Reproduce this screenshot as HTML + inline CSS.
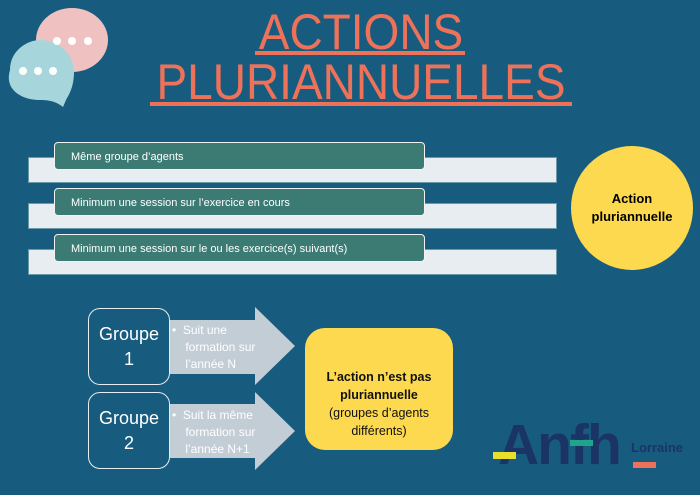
<!DOCTYPE html>
<html><head><meta charset="utf-8"><style>
body{margin:0;width:700px;height:495px;background:#175c7e;position:relative;overflow:hidden;font-family:"Liberation Sans",sans-serif}
.a{position:absolute}
.t{color:#ee7259;font-size:50px;line-height:1;text-align:center;left:0;width:722px;transform:scaleX(0.92);transform-origin:361px 0;font-weight:normal}
.ul{background:#ee7259;height:4px}
.lb{background:#e8edf1;border:1px solid #6a9aa8;left:28px;width:527px;height:24px}
.gb{background:#3c7b74;border:1.5px solid #f2f2f2;border-radius:4px;left:54px;height:28px;color:#fff;font-size:11px;line-height:28px;padding-left:16px;box-sizing:border-box;width:371px}
.grp{border:1.5px solid #e8edf1;border-radius:12px;left:88px;width:82px;height:77px;box-sizing:border-box;color:#fff;font-size:18px;text-align:center;line-height:25px;padding-top:13px}
.bl{color:#fff;font-size:12px;line-height:17px;left:172px;width:95px}
</style></head><body>
<svg class="a" style="left:0;top:0" width="120" height="115">
<ellipse cx="72" cy="40" rx="36" ry="32" fill="#f0c1c1"/>
<path d="M10 70 C10 50 28 40 40 40 C60 40 74 55 74 72 C74 88 68 96 66 100 L63 107 C58 103 52 100 40 100 C22 100 4 90 10 70Z" fill="#a6d6dc"/>
<circle cx="57" cy="41" r="4" fill="#fff"/><circle cx="72" cy="41" r="4" fill="#fff"/><circle cx="88" cy="41" r="4" fill="#fff"/>
<circle cx="23" cy="71" r="4" fill="#fff"/><circle cx="38" cy="71" r="4" fill="#fff"/><circle cx="53" cy="71" r="4" fill="#fff"/>
</svg>
<div class="a t" style="top:7px">ACTIONS</div>
<div class="a ul" style="left:255px;top:51px;width:210px"></div>
<div class="a t" style="top:57px">PLURIANNUELLES</div>
<div class="a ul" style="left:150px;top:102px;width:422px"></div>

<div class="a lb" style="top:157px"></div>
<div class="a gb" style="top:142px">Même groupe d’agents</div>
<div class="a lb" style="top:203px"></div>
<div class="a gb" style="top:188px">Minimum une session sur l’exercice en cours</div>
<div class="a lb" style="top:249px"></div>
<div class="a gb" style="top:234px">Minimum une session sur le ou les exercice(s) suivant(s)</div>

<div class="a" style="left:571px;top:146px;width:122px;height:124px;border-radius:50%;background:#fdd94f;display:flex;align-items:center;justify-content:center;text-align:center;font-weight:bold;font-size:13px;line-height:18px;color:#000">Action<br>pluriannuelle</div>

<svg class="a" style="left:0;top:0" width="700" height="495">
<polygon points="170,320 255,320 255,307 295,346 255,385 255,374 170,374" fill="#c3cdd6"/>
<polygon points="170,404 255,404 255,392 295,431 255,470 255,458 170,458" fill="#c3cdd6"/>
</svg>
<div class="a grp" style="top:308px">Groupe<br>1</div>
<div class="a grp" style="top:392px">Groupe<br>2</div>
<div class="a bl" style="top:322px">•&nbsp;&nbsp;Suit une<br>&nbsp;&nbsp;&nbsp;&nbsp;formation sur<br>&nbsp;&nbsp;&nbsp;&nbsp;l’année N</div>
<div class="a bl" style="top:407px">•&nbsp;&nbsp;Suit la même<br>&nbsp;&nbsp;&nbsp;&nbsp;formation sur<br>&nbsp;&nbsp;&nbsp;&nbsp;l’année N+1</div>

<div class="a" style="left:305px;top:328px;width:148px;height:122px;border-radius:20px;background:#fdd94f;box-sizing:border-box;padding-top:40px;text-align:center;font-size:12.5px;line-height:18px;color:#111"><b>L’action n’est pas<br>pluriannuelle</b><br>(groupes d’agents<br>différents)</div>

<div class="a" style="left:498px;top:415px;font-size:57px;font-weight:bold;color:#1b3466;letter-spacing:-2px;line-height:60px">Anfh</div>
<div class="a" style="left:493px;top:452px;width:23px;height:7px;background:#e8e02a"></div>
<div class="a" style="left:570px;top:440px;width:23px;height:6px;background:#1fa58a"></div>
<div class="a" style="left:631px;top:440px;width:70px;font-size:13px;line-height:16px;color:#1b3466;font-weight:bold">Lorraine</div>
<div class="a" style="left:633px;top:462px;width:23px;height:6px;background:#ee7259"></div>
</body></html>
